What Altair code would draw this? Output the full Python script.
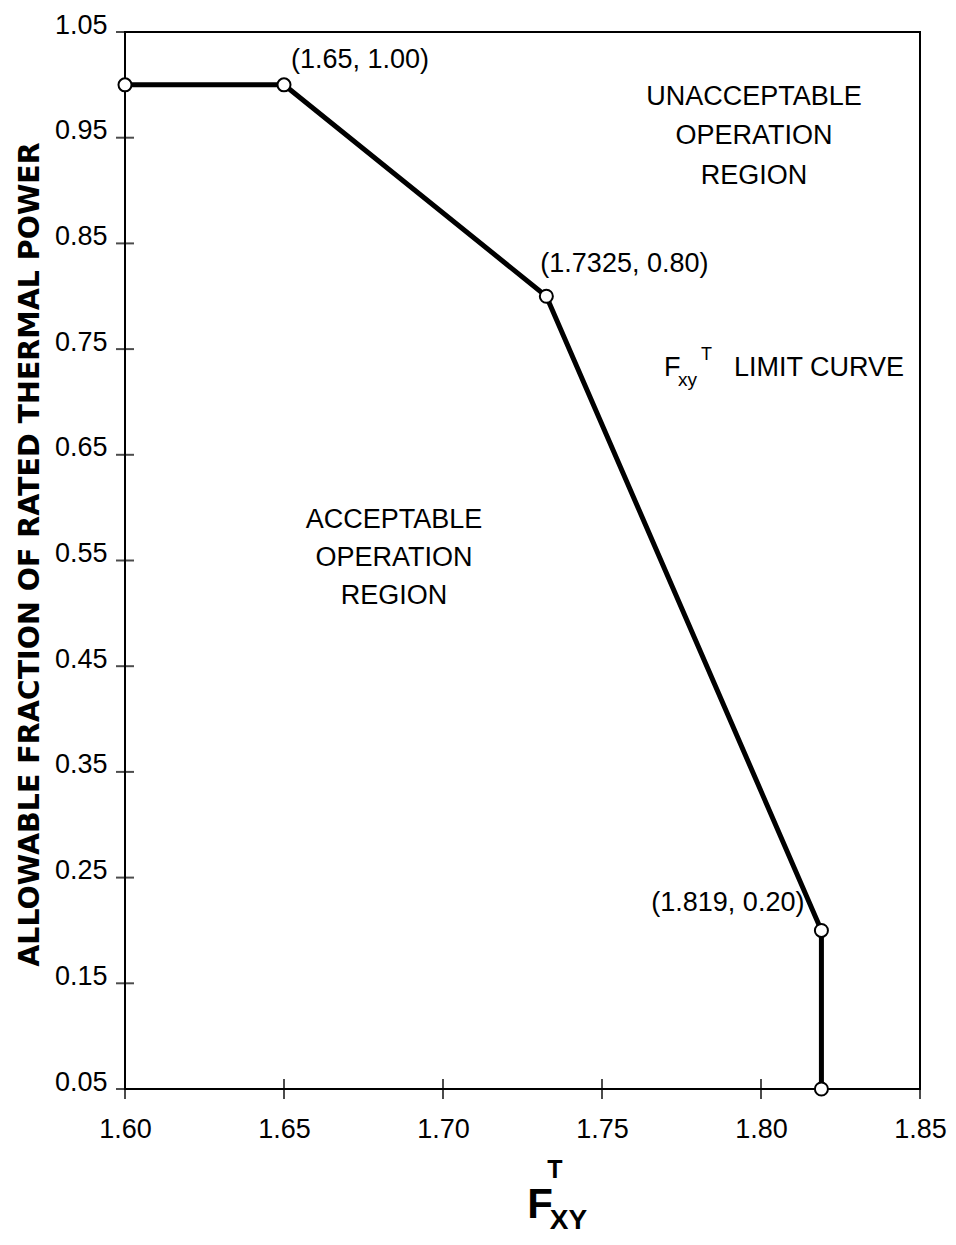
import altair as alt
import pandas as pd

# ---- data ----
curve_x = [1.60, 1.65, 1.7325, 1.819, 1.819]
curve_y = [1.00, 1.00, 0.80, 0.20, 0.05]

x_ticks = [1.60, 1.65, 1.70, 1.75, 1.80, 1.85]
y_ticks = [0.05, 0.15, 0.25, 0.35, 0.45, 0.55, 0.65, 0.75, 0.85, 0.95, 1.05]

point_labels = ["(1.65, 1.00)", "(1.7325, 0.80)", "(1.819, 0.20)"]
point_label_x = [1.65, 1.7325, 1.819]
point_label_y = [1.00, 0.80, 0.20]

region_text = ["UNACCEPTABLE", "OPERATION", "REGION", "ACCEPTABLE", "OPERATION", "REGION"]
region_x = [1.7978, 1.7978, 1.7978, 1.6846, 1.6846, 1.6846]
region_y = [0.981, 0.9436, 0.906, 0.581, 0.545, 0.509]

curve_name_text = ["F", "LIMIT CURVE"]
curve_name_x = [1.7695, 1.7915]
curve_name_y = [0.7246, 0.7246]

curve_name_small = ["xy", "T"]
curve_name_small_x = [1.7739, 1.7811]
curve_name_small_y = [0.715, 0.7397]
curve_name_small_size = [19, 18]

xtitle_text = ["F", "XY", "T"]
xtitle_x = [1.7305, 1.7336, 1.7352]
xtitle_y = [-0.0725, -0.0820, -0.0340]
xtitle_size = [42, 28, 25]
xtitle_align = ["center", "left", "center"]

FONT = "Liberation Sans"

xs = alt.Scale(domain=[1.60, 1.85], nice=False, zero=False)
ys = alt.Scale(domain=[0.05, 1.05], nice=False, zero=False)

curve = pd.DataFrame({"x": curve_x, "y": curve_y})

base = alt.Chart(curve).encode(
    x=alt.X("x:Q", scale=xs,
            axis=alt.Axis(values=x_ticks, format=".2f", ticks=False, domain=False,
                          grid=False, labelPadding=27, labelFontSize=27, labelFont=FONT,
                          labelColor="black", labelFlush=False, labelOverlap=False,
                          title=None)),
    y=alt.Y("y:Q", scale=ys,
            axis=alt.Axis(values=y_ticks, format=".2f", ticks=False, domain=False,
                          grid=False, labelPadding=18, labelFontSize=27, labelFont=FONT,
                          labelColor="black", labelBaseline="alphabetic", labelOffset=1,
                          labelFlush=False, labelOverlap=False,
                          title="ALLOWABLE FRACTION OF RATED THERMAL POWER",
                          titleFont="DejaVu Sans", titleFontSize=28.5, titleFontWeight="bold",
                          titleColor="black", titleAngle=270, titleBaseline="alphabetic",
                          titleAlign="center", titleX=-87, titleY=522)),
)

line = base.mark_line(color="black", strokeWidth=5)
points = base.mark_point(shape="circle", filled=True, fill="white", stroke="black",
                         strokeWidth=2, size=170, opacity=1)

xt = pd.DataFrame({"x": x_ticks, "y": [y_ticks[0]] * len(x_ticks)})
x_tick_marks = alt.Chart(xt).mark_tick(orient="vertical", size=20, thickness=2, color="black").encode(
    x=alt.X("x:Q", scale=xs), y=alt.Y("y:Q", scale=ys))
yt = pd.DataFrame({"x": [x_ticks[0]] * len(y_ticks), "y": y_ticks})
y_tick_marks = alt.Chart(yt).mark_tick(orient="horizontal", size=18, thickness=2, color="black").encode(
    x=alt.X("x:Q", scale=xs), y=alt.Y("y:Q", scale=ys))

label_style = [dict(align="left", dx=7, dy=-17),
               dict(align="left", dx=-6, dy=-24),
               dict(align="right", dx=-17, dy=-19)]
label_layers = []
for i, st in enumerate(label_style):
    d = pd.DataFrame({"x": [point_label_x[i]], "y": [point_label_y[i]], "t": [point_labels[i]]})
    label_layers.append(
        alt.Chart(d).mark_text(font=FONT, fontSize=27, color="black", baseline="alphabetic", **st)
        .encode(x=alt.X("x:Q", scale=xs), y=alt.Y("y:Q", scale=ys), text="t:N"))

regions = alt.Chart(pd.DataFrame({"x": region_x, "y": region_y, "t": region_text})).mark_text(
    font=FONT, fontSize=27, color="black", baseline="alphabetic", align="center").encode(
    x=alt.X("x:Q", scale=xs), y=alt.Y("y:Q", scale=ys), text="t:N")

cname = alt.Chart(pd.DataFrame({"x": curve_name_x, "y": curve_name_y, "t": curve_name_text})).mark_text(
    font=FONT, fontSize=27, color="black", baseline="alphabetic", align="left").encode(
    x=alt.X("x:Q", scale=xs), y=alt.Y("y:Q", scale=ys), text="t:N")

cname_small = alt.Chart(pd.DataFrame({"x": curve_name_small_x, "y": curve_name_small_y,
                                      "t": curve_name_small, "s": curve_name_small_size})).mark_text(
    font=FONT, color="black", baseline="alphabetic", align="left").encode(
    x=alt.X("x:Q", scale=xs), y=alt.Y("y:Q", scale=ys), text="t:N",
    size=alt.Size("s:Q", scale=None, legend=None))

xtitle_layers = []
for al in ["center", "left"]:
    idx = [i for i, a in enumerate(xtitle_align) if a == al]
    d = pd.DataFrame({"x": [xtitle_x[i] for i in idx], "y": [xtitle_y[i] for i in idx],
                      "t": [xtitle_text[i] for i in idx], "s": [xtitle_size[i] for i in idx]})
    xtitle_layers.append(
        alt.Chart(d).mark_text(font=FONT, fontWeight="bold", color="black",
                               baseline="alphabetic", align=al)
        .encode(x=alt.X("x:Q", scale=xs), y=alt.Y("y:Q", scale=ys), text="t:N",
                size=alt.Size("s:Q", scale=None, legend=None)))

chart = alt.layer(
    x_tick_marks, y_tick_marks, line, points, *label_layers, regions, cname, cname_small,
    *xtitle_layers
).properties(
    width=795, height=1057,
    autosize=alt.AutoSizeParams(type="none"),
    padding={"left": 117, "top": 24, "right": 28, "bottom": 147},
    background="white",
).configure_view(stroke="black", strokeWidth=2)

chart.save("out.html", embed_options={"renderer": "svg", "actions": False})
